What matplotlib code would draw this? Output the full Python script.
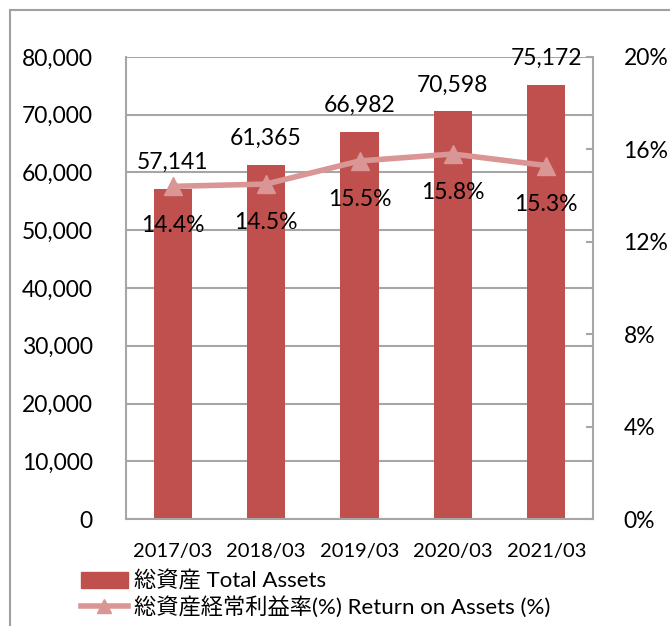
import matplotlib
matplotlib.use('Agg')
import matplotlib.pyplot as plt
from matplotlib.patches import Rectangle
from matplotlib.lines import Line2D
import numpy as np

plt.rcParams['font.family'] = ['Lato', 'Noto Sans CJK JP', 'DejaVu Sans']

years = ['2017/03', '2018/03', '2019/03', '2020/03', '2021/03']
total_assets = [57141, 61365, 66982, 70598, 75172]
roa = [14.4, 14.5, 15.5, 15.8, 15.3]

bar_color = '#C0504D'
line_color = '#D99694'
grid_color = '#A6A6A6'

fig = plt.figure(figsize=(6.70, 6.26), dpi=100)
ax = fig.add_axes([126/670, 1 - 519/626, (593 - 126)/670, (519 - 57)/626])

# outer frame of the chart object
fig.patches.append(Rectangle((10/670, -0.1), 1.0, 1 - 10/626 + 0.1, transform=fig.transFigure,
                             fill=False, edgecolor='#A0A0A0', linewidth=1.5))
# clipped title at top
fig.text(60/670, 1.0 + 5/626, 'Total Assets and Return on Assets', color='#A0A0A0',
         fontsize=14, ha='left', va='center')

x = np.arange(len(years))
ax.bar(x, total_assets, width=0.41, color=bar_color, zorder=2)
ax.set_xlim(-0.5, len(years) - 0.5)
ax.set_ylim(0, 80000)
ax.set_yticks(np.arange(0, 80001, 10000))
ax.set_yticklabels([f'{v:,}' for v in range(0, 80001, 10000)], fontsize=16.5)
ax.set_xticks(x)
ax.set_xticklabels(years, fontsize=14.5)
ax.yaxis.grid(True, color=grid_color, linewidth=1.5, zorder=0)
ax.set_axisbelow(True)
ax.tick_params(axis='y', length=0, pad=24)
ax.tick_params(axis='x', length=0, pad=17)
for s in ['left', 'bottom', 'right', 'top']:
    ax.spines[s].set_color(grid_color)
    ax.spines[s].set_linewidth(1.5)
ax.spines['top'].set_visible(False)

for xi, v in zip(x, total_assets):
    ax.annotate(f'{v:,}', (xi, v), xytext=(0, 19), textcoords='offset points',
                ha='center', va='center', fontsize=16.5)

ax2 = ax.twinx()
ax2.set_ylim(0, 20)
ax2.set_yticks(np.arange(0, 21, 4))
ax2.set_yticklabels([f'{v}%' for v in range(0, 21, 4)], fontsize=16.5)
ax2.tick_params(axis='y', direction='in', length=5, width=1.5, color=grid_color, pad=22)
for s in ax2.spines.values():
    s.set_visible(False)
ax2.plot(x, roa, color=line_color, linewidth=4, marker='^', markersize=13, zorder=3)
for xi, v in zip(x, roa):
    ax2.annotate(f'{v}%', (xi, v), xytext=(0, -28), textcoords='offset points',
                 ha='center', va='center', fontsize=16.5)

handles = [Rectangle((0, 0), 1, 1, color=bar_color),
           Line2D([0], [0], color=line_color, linewidth=4, marker='^', markersize=10)]
fig.legend(handles, ['総資産 Total Assets', '総資産経常利益率(%) Return on Assets (%)'],
           loc='upper left', bbox_to_anchor=(72/670, 1 - 562/626), frameon=False,
           fontsize=16, handlelength=2.1, handletextpad=0.3, labelspacing=0.2,
           borderaxespad=0)

fig.savefig('out.png', dpi=100)
